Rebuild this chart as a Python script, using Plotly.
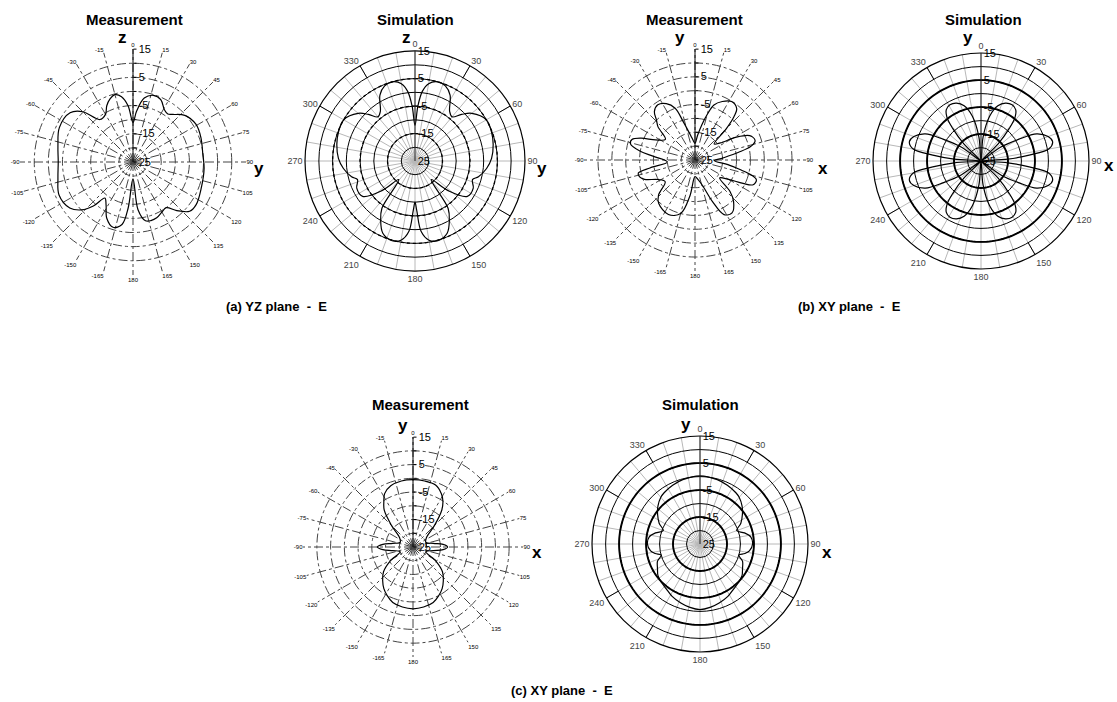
import plotly.graph_objects as go

FONT = "Liberation Sans, Arial, sans-serif"

# ---------------- data ----------------
# radial scale (dB)
r_range = [-25, 15.05]
r_tickvals = [-25, -20, -15, -10, -5, 0, 5, 10, 15]
r_ticktext = ["25", "", "-15", "", "-5", "", "5", "", "15"]

# angular ticks
meas_ang_vals = [0, 15, 30, 45, 60, 75, 90, 105, 120, 135, 150, 165, 180,
                 195, 210, 225, 240, 255, 270, 285, 300, 315, 330, 345]
meas_ang_text = ["0", "15", "30", "45", "60", "75", "90", "105", "120", "135", "150", "165", "180",
                 "-165", "-150", "-135", "-120", "-105", "-90", "-75", "-60", "-45", "-30", "-15"]
sim_ang_vals = [0, 10, 20, 30, 40, 50, 60, 70, 80, 90, 100, 110, 120, 130, 140, 150, 160, 170,
                180, 190, 200, 210, 220, 230, 240, 250, 260, 270, 280, 290, 300, 310, 320, 330, 340, 350]
sim_ang_text = ["0", "", "", "30", "", "", "60", "", "", "90", "", "", "120", "", "", "150", "", "",
                "180", "", "", "210", "", "", "240", "", "", "270", "", "", "300", "", "", "330", "", ""]
sim_ring_levels = [5, -5, -15]
sim_major_spokes = [30, 60, 120, 150, 210, 240, 300, 330]
sim_major_spoke_span = [10, 15]

# (a) YZ plane - measurement
meas_a_theta = [0, 4, 10, 17, 24, 31, 36, 40, 48, 59, 70, 84, 95, 111, 124, 131, 138, 144, 150, 157,
                163, 168, 174, 180, 186, 190, 197, 205, 212, 218, 222, 227, 234, 246, 258, 270, 282,
                295, 308, 315, 322, 330, 335, 340, 345, 350, 355]
meas_a_r = [-11, -7, -2, -0.3, -0.8, -3.4, -4, -3, -0.3, 1, 0.6, -0.1, 0.3, 0.9, 2, 1.6, -1.8, -5, -4.5, -3.5,
            -3.3, -3.7, -8, -19, -8.6, -2.5, -0.8, -3, -7, -8.8, -4, -0.1, 2.7, 3.7, 2.2, 1.5, 2.2,
            3.8, 3.3, 0.2, -5.9, -5.5, -3, -1.2, -0.3, -1.5, -5]

# (a) YZ plane - simulation
sim_a_theta = [0, 3, 6, 10, 16, 22, 28, 35, 40, 45, 50, 60, 69, 78, 88, 96, 104, 108, 115, 124, 132, 139,
               145, 150, 156, 164, 170, 175, 178, 180, 182, 185, 190, 196, 204, 210, 215, 221, 228, 236,
               245, 252, 256, 264, 272, 282, 291, 300, 310, 315, 320, 325, 332, 338, 344, 350, 354, 357]
sim_a_r = [-12, -5, 0.5, 3.6, 5, 4.5, 2.2, -3, -4, -1, 2, 5, 4.8, 4.1, 2.9, 1.2, -1.2, -3, -1.6, -2, -9, -16,
           -4, 0, 3.8, 5.2, 4.3, 0.8, -7, -10, -7, 0.8, 4.3, 5.2, 3.8, 0, -4, -16, -9, -2,
           -1.6, -3, -1.2, 1.2, 2.9, 4.1, 4.8, 5, 2, -1, -4, -3, 2.2, 4.5, 5, 3.6, 0.5, -5]

# (b) XY plane - measurement
meas_b_theta = [0, 6, 11, 15, 19, 25, 32, 39, 42, 45, 50, 56, 61, 66, 72, 76, 80, 86, 92, 98, 102, 105, 108,
                113, 116, 120, 126, 132, 137, 145, 152, 157, 163, 172, 180, 188, 195, 206, 220, 226, 234,
                242, 249, 253, 257, 260, 266, 275, 279, 284, 288, 292, 297, 305, 312, 316, 320, 326, 333,
                339, 343, 350, 355]
meas_b_r = [-19, -16, -12, -8, -4, -1.7, -0.1, -1.1, -4, -9, -16, -14, -8, -3.4, -2.2, -4, -9, -15, -18, -13,
            -8.4, -3.9, -1.7, -2.2, -5.7, -11, -14, -8, -4.6, -1.7, -2.7, -8.5, -15, -18, -19, -12, -5, -3.1,
            -4.6, -6.7, -11.7, -10, -5.5, -4.1, -4, -8.5, -15, -10, -5, -1, -1.1, -4, -9, -12, -7, -5, -2.2,
            -1, -2.2, -5, -10.6, -16, -18]

# (b) XY plane - simulation
sim_b_theta = [0, 5, 11, 17, 23, 29, 34, 38, 41, 45, 50, 55, 60, 64, 70, 75, 80, 83, 86, 90, 94, 97, 100,
               105, 110, 116, 120, 125, 130, 135, 139, 142, 146, 151, 157, 163, 169, 175, 180, 185, 191,
               197, 203, 209, 214, 218, 221, 225, 230, 235, 240, 244, 250, 255, 260, 263, 266, 270, 274,
               277, 280, 285, 290, 296, 300, 305, 310, 315, 319, 322, 326, 331, 337, 343, 349, 355]
sim_b_r = [-25, -16, -8, -3.6, -1.7, -1.2, -2, -4.5, -9, -16, -25, -16, -9, -2, 1.5, 2.5, 0.5, -7, -15, -25,
           -15, -7, 0.5, 2.5, 1.5, -2, -9, -16, -25, -16, -9, -4.5, -2, -1.2, -1.7, -3.6, -8, -16, -25,
           -16, -8, -3.6, -1.7, -1.2, -2, -4.5, -9, -16, -25, -16, -9, -2, 1.5, 2.5, 0.5, -7, -15, -25,
           -15, -7, 0.5, 2.5, 1.5, -2, -9, -16, -25, -16, -9, -4.5, -2, -1.2, -1.7, -3.6, -8, -16]

# (c) XY plane - measurement
meas_c_theta = [0, 10, 20, 28, 33, 38, 45, 55, 70, 80, 85, 90, 95, 100, 110, 122, 130, 138, 145, 152, 160,
                170, 180, 190, 200, 208, 215, 222, 230, 238, 250, 260, 265, 270, 275, 280, 290, 305, 315,
                322, 327, 332, 340, 350]
meas_c_r = [-0.5, -0.6, -1, -3, -5, -8, -14, -19, -20, -17.5, -14, -12.4, -14, -17.5, -20, -15, -11, -8.5,
            -6.5, -5, -3.5, -2.8, -2.5, -2.8, -3.5, -5, -6.5, -8.5, -11, -15, -20, -17.5, -14, -12, -14,
            -17.5, -20, -19, -14, -8, -5.5, -3, -1.3, -0.6]

# (c) XY plane - simulation
sim_c_theta = [0, 15, 25, 35, 40, 48, 55, 63, 70, 76, 82, 90, 98, 102, 106, 112, 120, 127, 135, 143, 152,
               162, 171, 180, 189, 198, 208, 217, 225, 233, 240, 248, 254, 258, 262, 270, 278, 284, 290,
               297, 305, 312, 320, 325, 335, 345]
sim_c_r = [0.3, -0.3, -1, -1.8, -2.4, -4, -5.8, -8, -10.5, -8, -6, -5.5, -6.5, -8, -10, -8, -6.8, -5.5, -4.8,
           -4.2, -3, -2, -1.2, -0.7, -1.2, -2, -3, -4.2, -4.8, -5.5, -6.8, -8, -10, -8, -6.5, -5.5, -6,
           -8, -10.5, -8, -5.8, -4, -2.4, -1.8, -1, -0.3]

# ---------------- figure ----------------
W, H = 1117, 702


def dom(cx, cy, R):
    return dict(x=[(cx - R) / W, (cx + R) / W], y=[1 - (cy + R) / H, 1 - (cy - R) / H])


def meas_polar(cx, cy, R):
    return dict(
        domain=dom(cx, cy, R), bgcolor="white",
        radialaxis=dict(range=r_range, tickmode="array", tickvals=r_tickvals, ticktext=r_ticktext,
                        angle=90, tickangle=90, side="clockwise",
                        showline=True, linecolor="black", linewidth=1,
                        ticks="outside", ticklen=3, tickcolor="black",
                        gridcolor="#444", griddash="dashdot", gridwidth=0.8,
                        tickfont=dict(family=FONT, size=11, color="black")),
        angularaxis=dict(rotation=90, direction="clockwise", tickmode="array",
                         tickvals=meas_ang_vals, ticktext=meas_ang_text,
                         showline=False, ticks="",
                         gridcolor="#444", griddash="dashdot", gridwidth=0.8,
                         tickfont=dict(family=FONT, size=6, color="black")),
    )


def sim_polar(cx, cy, R):
    return dict(
        domain=dom(cx, cy, R), bgcolor="white",
        radialaxis=dict(range=r_range, tickmode="array", tickvals=r_tickvals, ticktext=r_ticktext,
                        angle=90, tickangle=90, side="clockwise",
                        showline=True, linecolor="#222", linewidth=1, ticks="",
                        gridcolor="black", gridwidth=1,
                        tickfont=dict(family=FONT, size=11, color="black")),
        angularaxis=dict(rotation=90, direction="clockwise", tickmode="array",
                         tickvals=sim_ang_vals, ticktext=sim_ang_text,
                         showline=True, linecolor="black", linewidth=1.2, ticks="",
                         gridcolor="#b8b8b8", gridwidth=1,
                         tickfont=dict(family=FONT, size=9, color="#444")),
    )


fig = go.Figure()

panels = [
    ("polar", meas_a_theta, meas_a_r, "meas"),
    ("polar2", sim_a_theta, sim_a_r, "sim_a"),
    ("polar3", meas_b_theta, meas_b_r, "meas"),
    ("polar4", sim_b_theta, sim_b_r, "sim"),
    ("polar5", meas_c_theta, meas_c_r, "meas"),
    ("polar6", sim_c_theta, sim_c_r, "sim"),
]

ring_theta = list(range(0, 361, 2))
for sp, th, rr, kind in panels:
    if kind.startswith("sim"):
        # emphasised rings
        for lvl in sim_ring_levels:
            fig.add_trace(go.Scatterpolar(
                r=[lvl] * len(ring_theta), theta=ring_theta, subplot=sp, mode="lines",
                line=dict(color="black", width=1.3 if kind == "sim_a" else 1.9,
                          dash="dot" if kind == "sim_a" else "solid"),
                hoverinfo="skip", showlegend=False))
        # dark spoke segments in the outer band
        sr, st = [], []
        for a in sim_major_spokes:
            sr += sim_major_spoke_span + [None]
            st += [a, a, None]
        fig.add_trace(go.Scatterpolar(r=sr, theta=st, subplot=sp, mode="lines",
                                      line=dict(color="black", width=1), hoverinfo="skip",
                                      showlegend=False))
    fig.add_trace(go.Scatterpolar(
        r=rr + [rr[0]], theta=th + [360], subplot=sp, mode="lines",
        line=dict(color="black", width=1.2, shape="spline", smoothing=1),
        showlegend=False))

fig.update_layout(
    width=W, height=H, paper_bgcolor="white", plot_bgcolor="white",
    margin=dict(l=0, r=0, t=0, b=0), showlegend=False,
    font=dict(family=FONT),
    polar=meas_polar(133, 162, 113),
    polar2=sim_polar(415, 161, 110),
    polar3=meas_polar(695, 160, 111),
    polar4=sim_polar(981, 161, 108),
    polar5=meas_polar(413, 547, 110),
    polar6=sim_polar(700, 544, 108),
)


def txt(x, y, s, size, anchor="center"):
    fig.add_annotation(x=x / W, y=1 - y / H, xref="paper", yref="paper", text=s, showarrow=False,
                       xanchor=anchor, yanchor="middle",
                       font=dict(family=FONT, size=size, color="black"))


# panel titles
txt(134, 19, "<b>Measurement</b>", 15)
txt(415, 19, "<b>Simulation</b>", 15)
txt(694, 19, "<b>Measurement</b>", 15)
txt(983, 19, "<b>Simulation</b>", 15)
txt(420, 404, "<b>Measurement</b>", 15)
txt(700, 404, "<b>Simulation</b>", 15)
# captions
txt(276, 306, "<b>(a) YZ plane  -  E</b>", 13)
txt(849, 306, "<b>(b) XY plane  -  E</b>", 13)
txt(562, 690, "<b>(c) XY plane  -  E</b>", 13)
# axis letters
for x, y, s in [(122, 38, "z"), (259, 168, "y"), (406, 38, "z"), (542, 168, "y"),
                (680, 38, "y"), (823, 168, "x"), (968, 38, "y"), (1109, 166, "x"),
                (403, 426, "y"), (537, 552, "x"), (686, 424, "y"), (827, 552, "x")]:
    txt(x, y, "<b>" + s + "</b>", 17)

fig.write_html("out.html", config={"displayModeBar": False},
               post_script="document.body.style.margin='0';document.body.style.overflow='hidden';")
